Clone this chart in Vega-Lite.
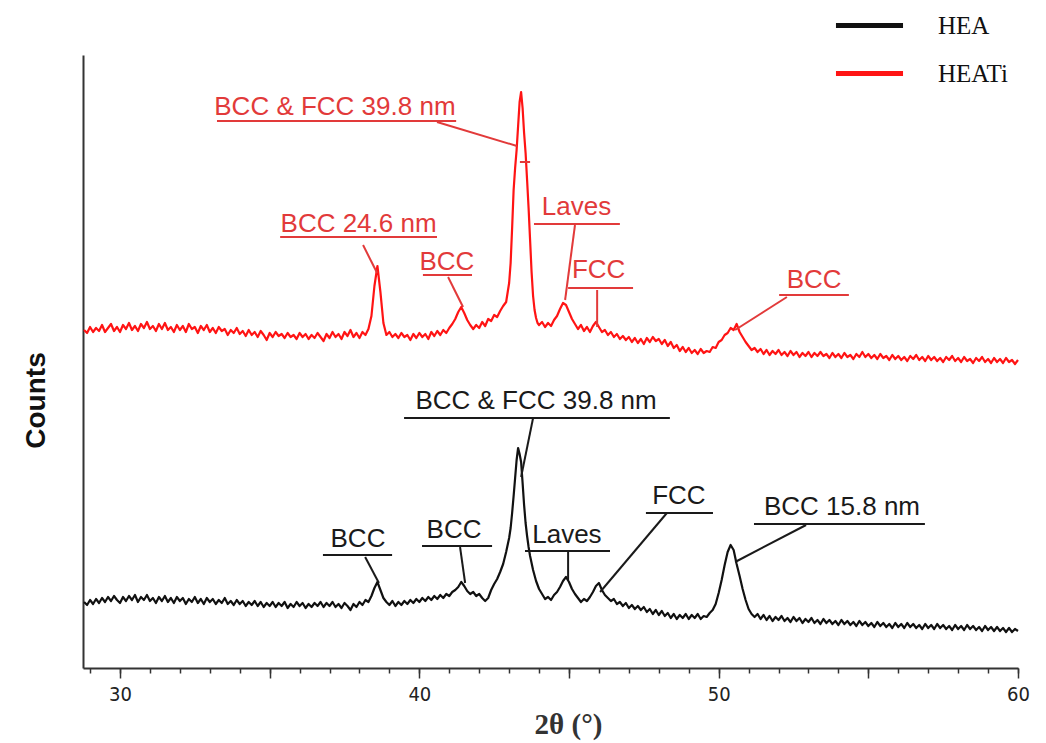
{
"$schema":"https://vega.github.io/schema/vega-lite/v6.json",
"width":935,"height":613,
"autosize":{"type":"none"},
"padding":{"left":83,"top":55,"right":28,"bottom":75},
"background":"white",
"config":{"view":{"stroke":null},"font":"Liberation Sans"},
"datasets":{
"xrd":[
{"series":"HEATi","theta":28.8,"counts":338},{"series":"HEATi","theta":28.9,"counts":335},{"series":"HEATi","theta":29.0,"counts":341},{"series":"HEATi","theta":29.1,"counts":336},{"series":"HEATi","theta":29.2,"counts":340},{"series":"HEATi","theta":29.3,"counts":337},{"series":"HEATi","theta":29.4,"counts":343},{"series":"HEATi","theta":29.5,"counts":336},{"series":"HEATi","theta":29.6,"counts":340},{"series":"HEATi","theta":29.7,"counts":344},
{"series":"HEATi","theta":29.8,"counts":337},{"series":"HEATi","theta":29.9,"counts":341},{"series":"HEATi","theta":30.0,"counts":336},{"series":"HEATi","theta":30.1,"counts":343},{"series":"HEATi","theta":30.2,"counts":339},{"series":"HEATi","theta":30.3,"counts":345},{"series":"HEATi","theta":30.4,"counts":338},{"series":"HEATi","theta":30.5,"counts":342},{"series":"HEATi","theta":30.6,"counts":337},{"series":"HEATi","theta":30.7,"counts":344},
{"series":"HEATi","theta":30.8,"counts":340},{"series":"HEATi","theta":30.9,"counts":346},{"series":"HEATi","theta":31.0,"counts":339},{"series":"HEATi","theta":31.1,"counts":342},{"series":"HEATi","theta":31.2,"counts":337},{"series":"HEATi","theta":31.3,"counts":344},{"series":"HEATi","theta":31.4,"counts":339},{"series":"HEATi","theta":31.5,"counts":345},{"series":"HEATi","theta":31.6,"counts":338},{"series":"HEATi","theta":31.7,"counts":341},
{"series":"HEATi","theta":31.8,"counts":336},{"series":"HEATi","theta":31.9,"counts":343},{"series":"HEATi","theta":32.0,"counts":338},{"series":"HEATi","theta":32.1,"counts":342},{"series":"HEATi","theta":32.2,"counts":336},{"series":"HEATi","theta":32.3,"counts":344},{"series":"HEATi","theta":32.4,"counts":339},{"series":"HEATi","theta":32.5,"counts":341},{"series":"HEATi","theta":32.6,"counts":335},{"series":"HEATi","theta":32.7,"counts":342},
{"series":"HEATi","theta":32.8,"counts":338},{"series":"HEATi","theta":32.9,"counts":343},{"series":"HEATi","theta":33.0,"counts":336},{"series":"HEATi","theta":33.1,"counts":340},{"series":"HEATi","theta":33.2,"counts":335},{"series":"HEATi","theta":33.3,"counts":341},{"series":"HEATi","theta":33.4,"counts":337},{"series":"HEATi","theta":33.5,"counts":339},{"series":"HEATi","theta":33.6,"counts":333},{"series":"HEATi","theta":33.7,"counts":338},
{"series":"HEATi","theta":33.8,"counts":335},{"series":"HEATi","theta":33.9,"counts":340},{"series":"HEATi","theta":34.0,"counts":334},{"series":"HEATi","theta":34.1,"counts":337},{"series":"HEATi","theta":34.2,"counts":332},{"series":"HEATi","theta":34.3,"counts":338},{"series":"HEATi","theta":34.4,"counts":333},{"series":"HEATi","theta":34.5,"counts":336},{"series":"HEATi","theta":34.6,"counts":331},{"series":"HEATi","theta":34.7,"counts":337},
{"series":"HEATi","theta":34.8,"counts":333},{"series":"HEATi","theta":34.9,"counts":328},{"series":"HEATi","theta":35.0,"counts":335},{"series":"HEATi","theta":35.1,"counts":331},{"series":"HEATi","theta":35.2,"counts":336},{"series":"HEATi","theta":35.3,"counts":332},{"series":"HEATi","theta":35.4,"counts":334},{"series":"HEATi","theta":35.5,"counts":330},{"series":"HEATi","theta":35.6,"counts":335},{"series":"HEATi","theta":35.7,"counts":331},
{"series":"HEATi","theta":35.8,"counts":333},{"series":"HEATi","theta":35.9,"counts":329},{"series":"HEATi","theta":36.0,"counts":335},{"series":"HEATi","theta":36.1,"counts":331},{"series":"HEATi","theta":36.2,"counts":334},{"series":"HEATi","theta":36.3,"counts":329},{"series":"HEATi","theta":36.4,"counts":333},{"series":"HEATi","theta":36.5,"counts":330},{"series":"HEATi","theta":36.6,"counts":335},{"series":"HEATi","theta":36.7,"counts":331},
{"series":"HEATi","theta":36.8,"counts":327},{"series":"HEATi","theta":36.9,"counts":334},{"series":"HEATi","theta":37.0,"counts":330},{"series":"HEATi","theta":37.1,"counts":336},{"series":"HEATi","theta":37.2,"counts":331},{"series":"HEATi","theta":37.3,"counts":334},{"series":"HEATi","theta":37.4,"counts":329},{"series":"HEATi","theta":37.5,"counts":336},{"series":"HEATi","theta":37.6,"counts":332},{"series":"HEATi","theta":37.7,"counts":338},
{"series":"HEATi","theta":37.8,"counts":331},{"series":"HEATi","theta":37.9,"counts":335},{"series":"HEATi","theta":38.0,"counts":330},{"series":"HEATi","theta":38.1,"counts":336},{"series":"HEATi","theta":38.2,"counts":333},{"series":"HEATi","theta":38.3,"counts":339},{"series":"HEATi","theta":38.4,"counts":352},{"series":"HEATi","theta":38.5,"counts":382},{"series":"HEATi","theta":38.6,"counts":402},{"series":"HEATi","theta":38.7,"counts":376},
{"series":"HEATi","theta":38.8,"counts":345},{"series":"HEATi","theta":38.9,"counts":333},{"series":"HEATi","theta":39.0,"counts":336},{"series":"HEATi","theta":39.1,"counts":331},{"series":"HEATi","theta":39.2,"counts":334},{"series":"HEATi","theta":39.3,"counts":330},{"series":"HEATi","theta":39.4,"counts":335},{"series":"HEATi","theta":39.5,"counts":331},{"series":"HEATi","theta":39.6,"counts":333},{"series":"HEATi","theta":39.7,"counts":328},
{"series":"HEATi","theta":39.8,"counts":334},{"series":"HEATi","theta":39.9,"counts":330},{"series":"HEATi","theta":40.0,"counts":335},{"series":"HEATi","theta":40.1,"counts":331},{"series":"HEATi","theta":40.2,"counts":334},{"series":"HEATi","theta":40.3,"counts":329},{"series":"HEATi","theta":40.4,"counts":336},{"series":"HEATi","theta":40.5,"counts":332},{"series":"HEATi","theta":40.6,"counts":337},{"series":"HEATi","theta":40.7,"counts":333},
{"series":"HEATi","theta":40.8,"counts":338},{"series":"HEATi","theta":40.9,"counts":335},{"series":"HEATi","theta":41.0,"counts":340},{"series":"HEATi","theta":41.1,"counts":344},{"series":"HEATi","theta":41.2,"counts":349},{"series":"HEATi","theta":41.3,"counts":356},{"series":"HEATi","theta":41.4,"counts":361},{"series":"HEATi","theta":41.5,"counts":355},{"series":"HEATi","theta":41.6,"counts":348},{"series":"HEATi","theta":41.7,"counts":343},
{"series":"HEATi","theta":41.8,"counts":339},{"series":"HEATi","theta":41.9,"counts":343},{"series":"HEATi","theta":42.0,"counts":340},{"series":"HEATi","theta":42.1,"counts":346},{"series":"HEATi","theta":42.2,"counts":342},{"series":"HEATi","theta":42.3,"counts":349},{"series":"HEATi","theta":42.4,"counts":347},{"series":"HEATi","theta":42.5,"counts":353},{"series":"HEATi","theta":42.6,"counts":351},{"series":"HEATi","theta":42.7,"counts":357},
{"series":"HEATi","theta":42.8,"counts":362},{"series":"HEATi","theta":42.9,"counts":366},{"series":"HEATi","theta":43.0,"counts":385},{"series":"HEATi","theta":43.05,"counts":405},{"series":"HEATi","theta":43.1,"counts":440},{"series":"HEATi","theta":43.15,"counts":478},{"series":"HEATi","theta":43.2,"counts":500},{"series":"HEATi","theta":43.25,"counts":518},{"series":"HEATi","theta":43.3,"counts":542},{"series":"HEATi","theta":43.35,"counts":566},
{"series":"HEATi","theta":43.4,"counts":576},{"series":"HEATi","theta":43.45,"counts":560},{"series":"HEATi","theta":43.5,"counts":535},{"series":"HEATi","theta":43.55,"counts":515},{"series":"HEATi","theta":43.6,"counts":488},{"series":"HEATi","theta":43.65,"counts":460},{"series":"HEATi","theta":43.7,"counts":428},{"series":"HEATi","theta":43.75,"counts":396},{"series":"HEATi","theta":43.8,"counts":372},{"series":"HEATi","theta":43.85,"counts":358},
{"series":"HEATi","theta":43.9,"counts":350},{"series":"HEATi","theta":43.95,"counts":345},{"series":"HEATi","theta":44.0,"counts":343},{"series":"HEATi","theta":44.1,"counts":346},{"series":"HEATi","theta":44.2,"counts":341},{"series":"HEATi","theta":44.3,"counts":345},{"series":"HEATi","theta":44.4,"counts":342},{"series":"HEATi","theta":44.5,"counts":348},{"series":"HEATi","theta":44.6,"counts":352},{"series":"HEATi","theta":44.7,"counts":359},
{"series":"HEATi","theta":44.8,"counts":365},{"series":"HEATi","theta":44.9,"counts":363},{"series":"HEATi","theta":45.0,"counts":356},{"series":"HEATi","theta":45.1,"counts":349},{"series":"HEATi","theta":45.2,"counts":344},{"series":"HEATi","theta":45.3,"counts":339},{"series":"HEATi","theta":45.4,"counts":343},{"series":"HEATi","theta":45.5,"counts":337},{"series":"HEATi","theta":45.6,"counts":341},{"series":"HEATi","theta":45.7,"counts":336},
{"series":"HEATi","theta":45.8,"counts":342},{"series":"HEATi","theta":45.9,"counts":346},{"series":"HEATi","theta":46.0,"counts":341},{"series":"HEATi","theta":46.1,"counts":336},{"series":"HEATi","theta":46.2,"counts":338},{"series":"HEATi","theta":46.3,"counts":333},{"series":"HEATi","theta":46.4,"counts":336},{"series":"HEATi","theta":46.5,"counts":331},{"series":"HEATi","theta":46.6,"counts":334},{"series":"HEATi","theta":46.7,"counts":329},
{"series":"HEATi","theta":46.8,"counts":332},{"series":"HEATi","theta":46.9,"counts":328},{"series":"HEATi","theta":47.0,"counts":331},{"series":"HEATi","theta":47.1,"counts":326},{"series":"HEATi","theta":47.2,"counts":330},{"series":"HEATi","theta":47.3,"counts":325},{"series":"HEATi","theta":47.4,"counts":329},{"series":"HEATi","theta":47.5,"counts":324},{"series":"HEATi","theta":47.6,"counts":330},{"series":"HEATi","theta":47.7,"counts":326},
{"series":"HEATi","theta":47.8,"counts":331},{"series":"HEATi","theta":47.9,"counts":327},{"series":"HEATi","theta":48.0,"counts":329},{"series":"HEATi","theta":48.1,"counts":324},{"series":"HEATi","theta":48.2,"counts":328},{"series":"HEATi","theta":48.3,"counts":322},{"series":"HEATi","theta":48.4,"counts":326},{"series":"HEATi","theta":48.5,"counts":320},{"series":"HEATi","theta":48.6,"counts":323},{"series":"HEATi","theta":48.7,"counts":317},
{"series":"HEATi","theta":48.8,"counts":321},{"series":"HEATi","theta":48.9,"counts":316},{"series":"HEATi","theta":49.0,"counts":320},{"series":"HEATi","theta":49.1,"counts":315},{"series":"HEATi","theta":49.2,"counts":318},{"series":"HEATi","theta":49.3,"counts":314},{"series":"HEATi","theta":49.4,"counts":319},{"series":"HEATi","theta":49.5,"counts":315},{"series":"HEATi","theta":49.6,"counts":317},{"series":"HEATi","theta":49.7,"counts":316},
{"series":"HEATi","theta":49.8,"counts":321},{"series":"HEATi","theta":49.9,"counts":320},{"series":"HEATi","theta":50.0,"counts":326},{"series":"HEATi","theta":50.1,"counts":328},{"series":"HEATi","theta":50.2,"counts":333},{"series":"HEATi","theta":50.3,"counts":335},{"series":"HEATi","theta":50.4,"counts":340},{"series":"HEATi","theta":50.5,"counts":338},{"series":"HEATi","theta":50.6,"counts":344},{"series":"HEATi","theta":50.7,"counts":336},
{"series":"HEATi","theta":50.8,"counts":331},{"series":"HEATi","theta":50.9,"counts":326},{"series":"HEATi","theta":51.0,"counts":322},{"series":"HEATi","theta":51.1,"counts":318},{"series":"HEATi","theta":51.2,"counts":320},{"series":"HEATi","theta":51.3,"counts":316},{"series":"HEATi","theta":51.4,"counts":319},{"series":"HEATi","theta":51.5,"counts":314},{"series":"HEATi","theta":51.6,"counts":318},{"series":"HEATi","theta":51.7,"counts":313},
{"series":"HEATi","theta":51.8,"counts":317},{"series":"HEATi","theta":51.9,"counts":314},{"series":"HEATi","theta":52.0,"counts":318},{"series":"HEATi","theta":52.1,"counts":313},{"series":"HEATi","theta":52.2,"counts":316},{"series":"HEATi","theta":52.3,"counts":312},{"series":"HEATi","theta":52.4,"counts":317},{"series":"HEATi","theta":52.5,"counts":313},{"series":"HEATi","theta":52.6,"counts":316},{"series":"HEATi","theta":52.7,"counts":311},
{"series":"HEATi","theta":52.8,"counts":315},{"series":"HEATi","theta":52.9,"counts":312},{"series":"HEATi","theta":53.0,"counts":316},{"series":"HEATi","theta":53.1,"counts":311},{"series":"HEATi","theta":53.2,"counts":315},{"series":"HEATi","theta":53.3,"counts":312},{"series":"HEATi","theta":53.4,"counts":316},{"series":"HEATi","theta":53.5,"counts":312},{"series":"HEATi","theta":53.6,"counts":314},{"series":"HEATi","theta":53.7,"counts":310},
{"series":"HEATi","theta":53.8,"counts":315},{"series":"HEATi","theta":53.9,"counts":311},{"series":"HEATi","theta":54.0,"counts":314},{"series":"HEATi","theta":54.1,"counts":310},{"series":"HEATi","theta":54.2,"counts":315},{"series":"HEATi","theta":54.3,"counts":311},{"series":"HEATi","theta":54.4,"counts":313},{"series":"HEATi","theta":54.5,"counts":309},{"series":"HEATi","theta":54.6,"counts":314},{"series":"HEATi","theta":54.7,"counts":311},
{"series":"HEATi","theta":54.8,"counts":316},{"series":"HEATi","theta":54.9,"counts":311},{"series":"HEATi","theta":55.0,"counts":314},{"series":"HEATi","theta":55.1,"counts":310},{"series":"HEATi","theta":55.2,"counts":313},{"series":"HEATi","theta":55.3,"counts":309},{"series":"HEATi","theta":55.4,"counts":314},{"series":"HEATi","theta":55.5,"counts":310},{"series":"HEATi","theta":55.6,"counts":312},{"series":"HEATi","theta":55.7,"counts":308},
{"series":"HEATi","theta":55.8,"counts":313},{"series":"HEATi","theta":55.9,"counts":309},{"series":"HEATi","theta":56.0,"counts":312},{"series":"HEATi","theta":56.1,"counts":308},{"series":"HEATi","theta":56.2,"counts":311},{"series":"HEATi","theta":56.3,"counts":307},{"series":"HEATi","theta":56.4,"counts":312},{"series":"HEATi","theta":56.5,"counts":309},{"series":"HEATi","theta":56.6,"counts":313},{"series":"HEATi","theta":56.7,"counts":308},
{"series":"HEATi","theta":56.8,"counts":311},{"series":"HEATi","theta":56.9,"counts":307},{"series":"HEATi","theta":57.0,"counts":312},{"series":"HEATi","theta":57.1,"counts":308},{"series":"HEATi","theta":57.2,"counts":311},{"series":"HEATi","theta":57.3,"counts":307},{"series":"HEATi","theta":57.4,"counts":310},{"series":"HEATi","theta":57.5,"counts":306},{"series":"HEATi","theta":57.6,"counts":311},{"series":"HEATi","theta":57.7,"counts":308},
{"series":"HEATi","theta":57.8,"counts":312},{"series":"HEATi","theta":57.9,"counts":307},{"series":"HEATi","theta":58.0,"counts":310},{"series":"HEATi","theta":58.1,"counts":306},{"series":"HEATi","theta":58.2,"counts":311},{"series":"HEATi","theta":58.3,"counts":307},{"series":"HEATi","theta":58.4,"counts":309},{"series":"HEATi","theta":58.5,"counts":305},{"series":"HEATi","theta":58.6,"counts":310},{"series":"HEATi","theta":58.7,"counts":307},
{"series":"HEATi","theta":58.8,"counts":311},{"series":"HEATi","theta":58.9,"counts":306},{"series":"HEATi","theta":59.0,"counts":309},{"series":"HEATi","theta":59.1,"counts":305},{"series":"HEATi","theta":59.2,"counts":310},{"series":"HEATi","theta":59.3,"counts":306},{"series":"HEATi","theta":59.4,"counts":309},{"series":"HEATi","theta":59.5,"counts":305},{"series":"HEATi","theta":59.6,"counts":310},{"series":"HEATi","theta":59.7,"counts":306},
{"series":"HEATi","theta":59.8,"counts":308},{"series":"HEATi","theta":59.9,"counts":304},{"series":"HEATi","theta":60.0,"counts":308},
{"series":"HEA","theta":28.8,"counts":66},{"series":"HEA","theta":28.9,"counts":63},{"series":"HEA","theta":29.0,"counts":68},{"series":"HEA","theta":29.1,"counts":64},{"series":"HEA","theta":29.2,"counts":69},{"series":"HEA","theta":29.3,"counts":65},{"series":"HEA","theta":29.4,"counts":70},{"series":"HEA","theta":29.5,"counts":66},{"series":"HEA","theta":29.6,"counts":71},{"series":"HEA","theta":29.7,"counts":67},
{"series":"HEA","theta":29.8,"counts":72},{"series":"HEA","theta":29.9,"counts":68},{"series":"HEA","theta":30.0,"counts":65},{"series":"HEA","theta":30.1,"counts":71},{"series":"HEA","theta":30.2,"counts":67},{"series":"HEA","theta":30.3,"counts":72},{"series":"HEA","theta":30.4,"counts":68},{"series":"HEA","theta":30.5,"counts":73},{"series":"HEA","theta":30.6,"counts":66},{"series":"HEA","theta":30.7,"counts":71},
{"series":"HEA","theta":30.8,"counts":68},{"series":"HEA","theta":30.9,"counts":73},{"series":"HEA","theta":31.0,"counts":67},{"series":"HEA","theta":31.1,"counts":70},{"series":"HEA","theta":31.2,"counts":65},{"series":"HEA","theta":31.3,"counts":71},{"series":"HEA","theta":31.4,"counts":67},{"series":"HEA","theta":31.5,"counts":72},{"series":"HEA","theta":31.6,"counts":66},{"series":"HEA","theta":31.7,"counts":70},
{"series":"HEA","theta":31.8,"counts":65},{"series":"HEA","theta":31.9,"counts":71},{"series":"HEA","theta":32.0,"counts":67},{"series":"HEA","theta":32.1,"counts":70},{"series":"HEA","theta":32.2,"counts":64},{"series":"HEA","theta":32.3,"counts":69},{"series":"HEA","theta":32.4,"counts":66},{"series":"HEA","theta":32.5,"counts":71},{"series":"HEA","theta":32.6,"counts":65},{"series":"HEA","theta":32.7,"counts":69},
{"series":"HEA","theta":32.8,"counts":64},{"series":"HEA","theta":32.9,"counts":70},{"series":"HEA","theta":33.0,"counts":66},{"series":"HEA","theta":33.1,"counts":69},{"series":"HEA","theta":33.2,"counts":64},{"series":"HEA","theta":33.3,"counts":68},{"series":"HEA","theta":33.4,"counts":65},{"series":"HEA","theta":33.5,"counts":70},{"series":"HEA","theta":33.6,"counts":64},{"series":"HEA","theta":33.7,"counts":67},
{"series":"HEA","theta":33.8,"counts":63},{"series":"HEA","theta":33.9,"counts":68},{"series":"HEA","theta":34.0,"counts":64},{"series":"HEA","theta":34.1,"counts":67},{"series":"HEA","theta":34.2,"counts":62},{"series":"HEA","theta":34.3,"counts":66},{"series":"HEA","theta":34.4,"counts":63},{"series":"HEA","theta":34.5,"counts":67},{"series":"HEA","theta":34.6,"counts":62},{"series":"HEA","theta":34.7,"counts":66},
{"series":"HEA","theta":34.8,"counts":61},{"series":"HEA","theta":34.9,"counts":65},{"series":"HEA","theta":35.0,"counts":62},{"series":"HEA","theta":35.1,"counts":66},{"series":"HEA","theta":35.2,"counts":61},{"series":"HEA","theta":35.3,"counts":65},{"series":"HEA","theta":35.4,"counts":62},{"series":"HEA","theta":35.5,"counts":66},{"series":"HEA","theta":35.6,"counts":60},{"series":"HEA","theta":35.7,"counts":64},
{"series":"HEA","theta":35.8,"counts":61},{"series":"HEA","theta":35.9,"counts":66},{"series":"HEA","theta":36.0,"counts":62},{"series":"HEA","theta":36.1,"counts":65},{"series":"HEA","theta":36.2,"counts":60},{"series":"HEA","theta":36.3,"counts":64},{"series":"HEA","theta":36.4,"counts":61},{"series":"HEA","theta":36.5,"counts":65},{"series":"HEA","theta":36.6,"counts":62},{"series":"HEA","theta":36.7,"counts":66},
{"series":"HEA","theta":36.8,"counts":61},{"series":"HEA","theta":36.9,"counts":65},{"series":"HEA","theta":37.0,"counts":62},{"series":"HEA","theta":37.1,"counts":66},{"series":"HEA","theta":37.2,"counts":61},{"series":"HEA","theta":37.3,"counts":64},{"series":"HEA","theta":37.4,"counts":60},{"series":"HEA","theta":37.5,"counts":65},{"series":"HEA","theta":37.6,"counts":62},{"series":"HEA","theta":37.7,"counts":58},
{"series":"HEA","theta":37.8,"counts":64},{"series":"HEA","theta":37.9,"counts":61},{"series":"HEA","theta":38.0,"counts":66},{"series":"HEA","theta":38.1,"counts":63},{"series":"HEA","theta":38.2,"counts":68},{"series":"HEA","theta":38.3,"counts":66},{"series":"HEA","theta":38.4,"counts":72},{"series":"HEA","theta":38.5,"counts":80},{"series":"HEA","theta":38.6,"counts":86},{"series":"HEA","theta":38.7,"counts":78},
{"series":"HEA","theta":38.8,"counts":70},{"series":"HEA","theta":38.9,"counts":66},{"series":"HEA","theta":39.0,"counts":63},{"series":"HEA","theta":39.1,"counts":67},{"series":"HEA","theta":39.2,"counts":62},{"series":"HEA","theta":39.3,"counts":66},{"series":"HEA","theta":39.4,"counts":63},{"series":"HEA","theta":39.5,"counts":67},{"series":"HEA","theta":39.6,"counts":64},{"series":"HEA","theta":39.7,"counts":68},
{"series":"HEA","theta":39.8,"counts":65},{"series":"HEA","theta":39.9,"counts":69},{"series":"HEA","theta":40.0,"counts":66},{"series":"HEA","theta":40.1,"counts":70},{"series":"HEA","theta":40.2,"counts":67},{"series":"HEA","theta":40.3,"counts":71},{"series":"HEA","theta":40.4,"counts":68},{"series":"HEA","theta":40.5,"counts":72},{"series":"HEA","theta":40.6,"counts":69},{"series":"HEA","theta":40.7,"counts":73},
{"series":"HEA","theta":40.8,"counts":70},{"series":"HEA","theta":40.9,"counts":74},{"series":"HEA","theta":41.0,"counts":72},{"series":"HEA","theta":41.1,"counts":76},{"series":"HEA","theta":41.2,"counts":78},{"series":"HEA","theta":41.3,"counts":81},{"series":"HEA","theta":41.4,"counts":86},{"series":"HEA","theta":41.5,"counts":82},{"series":"HEA","theta":41.6,"counts":77},{"series":"HEA","theta":41.7,"counts":74},
{"series":"HEA","theta":41.8,"counts":76},{"series":"HEA","theta":41.9,"counts":72},{"series":"HEA","theta":42.0,"counts":74},{"series":"HEA","theta":42.1,"counts":70},{"series":"HEA","theta":42.2,"counts":67},{"series":"HEA","theta":42.3,"counts":70},{"series":"HEA","theta":42.4,"counts":78},{"series":"HEA","theta":42.5,"counts":84},{"series":"HEA","theta":42.6,"counts":89},{"series":"HEA","theta":42.7,"counts":96},
{"series":"HEA","theta":42.8,"counts":104},{"series":"HEA","theta":42.9,"counts":116},{"series":"HEA","theta":43.0,"counts":130},{"series":"HEA","theta":43.05,"counts":140},{"series":"HEA","theta":43.1,"counts":155},{"series":"HEA","theta":43.15,"counts":172},{"series":"HEA","theta":43.2,"counts":190},{"series":"HEA","theta":43.25,"counts":208},{"series":"HEA","theta":43.3,"counts":220},{"series":"HEA","theta":43.35,"counts":214},
{"series":"HEA","theta":43.4,"counts":206},{"series":"HEA","theta":43.45,"counts":185},{"series":"HEA","theta":43.5,"counts":163},{"series":"HEA","theta":43.55,"counts":145},{"series":"HEA","theta":43.6,"counts":132},{"series":"HEA","theta":43.65,"counts":121},{"series":"HEA","theta":43.7,"counts":112},{"series":"HEA","theta":43.8,"counts":98},{"series":"HEA","theta":43.9,"counts":87},{"series":"HEA","theta":44.0,"counts":79},
{"series":"HEA","theta":44.1,"counts":74},{"series":"HEA","theta":44.2,"counts":69},{"series":"HEA","theta":44.3,"counts":71},{"series":"HEA","theta":44.4,"counts":68},{"series":"HEA","theta":44.5,"counts":73},{"series":"HEA","theta":44.6,"counts":76},{"series":"HEA","theta":44.7,"counts":81},{"series":"HEA","theta":44.8,"counts":87},{"series":"HEA","theta":44.9,"counts":91},{"series":"HEA","theta":45.0,"counts":86},
{"series":"HEA","theta":45.1,"counts":79},{"series":"HEA","theta":45.2,"counts":74},{"series":"HEA","theta":45.3,"counts":70},{"series":"HEA","theta":45.4,"counts":66},{"series":"HEA","theta":45.5,"counts":69},{"series":"HEA","theta":45.6,"counts":67},{"series":"HEA","theta":45.7,"counts":71},{"series":"HEA","theta":45.8,"counts":76},{"series":"HEA","theta":45.9,"counts":82},{"series":"HEA","theta":46.0,"counts":85},
{"series":"HEA","theta":46.1,"counts":78},{"series":"HEA","theta":46.2,"counts":73},{"series":"HEA","theta":46.3,"counts":70},{"series":"HEA","theta":46.4,"counts":67},{"series":"HEA","theta":46.5,"counts":69},{"series":"HEA","theta":46.6,"counts":64},{"series":"HEA","theta":46.7,"counts":66},{"series":"HEA","theta":46.8,"counts":62},{"series":"HEA","theta":46.9,"counts":65},{"series":"HEA","theta":47.0,"counts":60},
{"series":"HEA","theta":47.1,"counts":63},{"series":"HEA","theta":47.2,"counts":59},{"series":"HEA","theta":47.3,"counts":62},{"series":"HEA","theta":47.4,"counts":58},{"series":"HEA","theta":47.5,"counts":61},{"series":"HEA","theta":47.6,"counts":56},{"series":"HEA","theta":47.7,"counts":59},{"series":"HEA","theta":47.8,"counts":54},{"series":"HEA","theta":47.9,"counts":58},{"series":"HEA","theta":48.0,"counts":53},
{"series":"HEA","theta":48.1,"counts":57},{"series":"HEA","theta":48.2,"counts":52},{"series":"HEA","theta":48.3,"counts":55},{"series":"HEA","theta":48.4,"counts":50},{"series":"HEA","theta":48.5,"counts":54},{"series":"HEA","theta":48.6,"counts":49},{"series":"HEA","theta":48.7,"counts":53},{"series":"HEA","theta":48.8,"counts":50},{"series":"HEA","theta":48.9,"counts":54},{"series":"HEA","theta":49.0,"counts":49},
{"series":"HEA","theta":49.1,"counts":53},{"series":"HEA","theta":49.2,"counts":50},{"series":"HEA","theta":49.3,"counts":54},{"series":"HEA","theta":49.4,"counts":49},{"series":"HEA","theta":49.5,"counts":52},{"series":"HEA","theta":49.6,"counts":51},{"series":"HEA","theta":49.7,"counts":55},{"series":"HEA","theta":49.8,"counts":58},{"series":"HEA","theta":49.9,"counts":64},{"series":"HEA","theta":50.0,"counts":75},
{"series":"HEA","theta":50.1,"counts":88},{"series":"HEA","theta":50.2,"counts":103},{"series":"HEA","theta":50.3,"counts":116},{"series":"HEA","theta":50.4,"counts":123},{"series":"HEA","theta":50.5,"counts":118},{"series":"HEA","theta":50.6,"counts":104},{"series":"HEA","theta":50.7,"counts":92},{"series":"HEA","theta":50.8,"counts":79},{"series":"HEA","theta":50.9,"counts":68},{"series":"HEA","theta":51.0,"counts":59},
{"series":"HEA","theta":51.1,"counts":54},{"series":"HEA","theta":51.2,"counts":51},{"series":"HEA","theta":51.3,"counts":54},{"series":"HEA","theta":51.4,"counts":49},{"series":"HEA","theta":51.5,"counts":53},{"series":"HEA","theta":51.6,"counts":48},{"series":"HEA","theta":51.7,"counts":52},{"series":"HEA","theta":51.8,"counts":47},{"series":"HEA","theta":51.9,"counts":51},{"series":"HEA","theta":52.0,"counts":48},
{"series":"HEA","theta":52.1,"counts":52},{"series":"HEA","theta":52.2,"counts":47},{"series":"HEA","theta":52.3,"counts":50},{"series":"HEA","theta":52.4,"counts":46},{"series":"HEA","theta":52.5,"counts":51},{"series":"HEA","theta":52.6,"counts":47},{"series":"HEA","theta":52.7,"counts":50},{"series":"HEA","theta":52.8,"counts":45},{"series":"HEA","theta":52.9,"counts":49},{"series":"HEA","theta":53.0,"counts":46},
{"series":"HEA","theta":53.1,"counts":50},{"series":"HEA","theta":53.2,"counts":45},{"series":"HEA","theta":53.3,"counts":48},{"series":"HEA","theta":53.4,"counts":44},{"series":"HEA","theta":53.5,"counts":49},{"series":"HEA","theta":53.6,"counts":45},{"series":"HEA","theta":53.7,"counts":48},{"series":"HEA","theta":53.8,"counts":44},{"series":"HEA","theta":53.9,"counts":47},{"series":"HEA","theta":54.0,"counts":43},
{"series":"HEA","theta":54.1,"counts":48},{"series":"HEA","theta":54.2,"counts":44},{"series":"HEA","theta":54.3,"counts":47},{"series":"HEA","theta":54.4,"counts":43},{"series":"HEA","theta":54.5,"counts":46},{"series":"HEA","theta":54.6,"counts":42},{"series":"HEA","theta":54.7,"counts":47},{"series":"HEA","theta":54.8,"counts":43},{"series":"HEA","theta":54.9,"counts":46},{"series":"HEA","theta":55.0,"counts":42},
{"series":"HEA","theta":55.1,"counts":45},{"series":"HEA","theta":55.2,"counts":41},{"series":"HEA","theta":55.3,"counts":46},{"series":"HEA","theta":55.4,"counts":42},{"series":"HEA","theta":55.5,"counts":45},{"series":"HEA","theta":55.6,"counts":41},{"series":"HEA","theta":55.7,"counts":44},{"series":"HEA","theta":55.8,"counts":40},{"series":"HEA","theta":55.9,"counts":45},{"series":"HEA","theta":56.0,"counts":41},
{"series":"HEA","theta":56.1,"counts":44},{"series":"HEA","theta":56.2,"counts":40},{"series":"HEA","theta":56.3,"counts":45},{"series":"HEA","theta":56.4,"counts":41},{"series":"HEA","theta":56.5,"counts":44},{"series":"HEA","theta":56.6,"counts":40},{"series":"HEA","theta":56.7,"counts":43},{"series":"HEA","theta":56.8,"counts":39},{"series":"HEA","theta":56.9,"counts":44},{"series":"HEA","theta":57.0,"counts":40},
{"series":"HEA","theta":57.1,"counts":43},{"series":"HEA","theta":57.2,"counts":39},{"series":"HEA","theta":57.3,"counts":44},{"series":"HEA","theta":57.4,"counts":40},{"series":"HEA","theta":57.5,"counts":43},{"series":"HEA","theta":57.6,"counts":39},{"series":"HEA","theta":57.7,"counts":42},{"series":"HEA","theta":57.8,"counts":38},{"series":"HEA","theta":57.9,"counts":43},{"series":"HEA","theta":58.0,"counts":39},
{"series":"HEA","theta":58.1,"counts":42},{"series":"HEA","theta":58.2,"counts":38},{"series":"HEA","theta":58.3,"counts":43},{"series":"HEA","theta":58.4,"counts":39},{"series":"HEA","theta":58.5,"counts":42},{"series":"HEA","theta":58.6,"counts":38},{"series":"HEA","theta":58.7,"counts":41},{"series":"HEA","theta":58.8,"counts":37},{"series":"HEA","theta":58.9,"counts":42},{"series":"HEA","theta":59.0,"counts":38},
{"series":"HEA","theta":59.1,"counts":41},{"series":"HEA","theta":59.2,"counts":37},{"series":"HEA","theta":59.3,"counts":41},{"series":"HEA","theta":59.4,"counts":37},{"series":"HEA","theta":59.5,"counts":40},{"series":"HEA","theta":59.6,"counts":36},{"series":"HEA","theta":59.7,"counts":40},{"series":"HEA","theta":59.8,"counts":36},{"series":"HEA","theta":59.9,"counts":39},{"series":"HEA","theta":60.0,"counts":37}
],
"labels":[
{"series":"HEATi","theta":37.18,"counts":553,"label":"BCC & FCC 39.8 nm"},
{"series":"HEATi","theta":37.97,"counts":436,"label":"BCC 24.6 nm"},
{"series":"HEATi","theta":40.92,"counts":398,"label":"BCC"},
{"series":"HEATi","theta":45.25,"counts":453,"label":"Laves"},
{"series":"HEATi","theta":45.99,"counts":390,"label":"FCC"},
{"series":"HEATi","theta":53.19,"counts":380,"label":"BCC"},
{"series":"HEA","theta":43.90,"counts":259,"label":"BCC & FCC 39.8 nm"},
{"series":"HEA","theta":37.95,"counts":121,"label":"BCC"},
{"series":"HEA","theta":41.16,"counts":130,"label":"BCC"},
{"series":"HEA","theta":44.93,"counts":125,"label":"Laves"},
{"series":"HEA","theta":48.67,"counts":164,"label":"FCC"},
{"series":"HEA","theta":54.12,"counts":153,"label":"BCC 15.8 nm"}
],
"segments":[
{"series":"HEATi","x1":33.24,"y1":547,"x2":41.23,"y2":547},
{"series":"HEATi","x1":40.59,"y1":546,"x2":43.26,"y2":522},
{"series":"HEATi","x1":43.36,"y1":506,"x2":43.70,"y2":506},
{"series":"HEATi","x1":35.35,"y1":431,"x2":40.59,"y2":431},
{"series":"HEATi","x1":38.12,"y1":423,"x2":38.59,"y2":395},
{"series":"HEATi","x1":40.12,"y1":393,"x2":41.76,"y2":393},
{"series":"HEATi","x1":40.96,"y1":391,"x2":41.46,"y2":361},
{"series":"HEATi","x1":43.83,"y1":444,"x2":46.70,"y2":444},
{"series":"HEATi","x1":45.20,"y1":443,"x2":44.87,"y2":368},
{"series":"HEATi","x1":44.97,"y1":380,"x2":47.14,"y2":380},
{"series":"HEATi","x1":45.94,"y1":378,"x2":45.94,"y2":341},
{"series":"HEATi","x1":52.02,"y1":373,"x2":54.35,"y2":373},
{"series":"HEATi","x1":52.28,"y1":371,"x2":50.55,"y2":338},
{"series":"HEA","x1":39.49,"y1":250,"x2":48.37,"y2":250},
{"series":"HEA","x1":43.80,"y1":250,"x2":43.40,"y2":191},
{"series":"HEA","x1":36.78,"y1":113,"x2":39.09,"y2":113},
{"series":"HEA","x1":38.19,"y1":111,"x2":38.65,"y2":85},
{"series":"HEA","x1":40.09,"y1":122,"x2":42.43,"y2":122},
{"series":"HEA","x1":41.36,"y1":121,"x2":41.53,"y2":85},
{"series":"HEA","x1":43.53,"y1":117,"x2":46.37,"y2":117},
{"series":"HEA","x1":44.97,"y1":116,"x2":44.97,"y2":88},
{"series":"HEA","x1":47.57,"y1":155,"x2":49.81,"y2":155},
{"series":"HEA","x1":48.27,"y1":155,"x2":46.04,"y2":76},
{"series":"HEA","x1":51.18,"y1":144,"x2":56.89,"y2":144},
{"series":"HEA","x1":52.92,"y1":143,"x2":50.55,"y2":106}
]
},
"layer":[
{
"data":{"name":"xrd"},
"mark":{"type":"line","strokeWidth":2.2,"strokeJoin":"round"},
"encoding":{
"x":{"field":"theta","type":"quantitative","scale":{"domain":[28.764,60],"nice":false,"zero":false},
"axis":{"orient":"bottom","values":[30,35,40,45,50,55,60],"tickSize":10,"tickWidth":1.5,"tickColor":"#333333","domainColor":"#333333","domainWidth":2,"grid":false,
"labelExpr":"datum.value % 10 === 0 ? datum.label : ''","labelFlush":false,"labelOverlap":false,"labelFont":"DejaVu Sans Condensed, Liberation Sans, sans-serif","labelFontSize":20,"labelColor":"#222222","labelPadding":6,
"title":"2θ (°)","titleFont":"Liberation Serif","titleFontSize":29,"titleFontWeight":"bold","titleColor":"#333333","titleX":485,"titleY":65,"titleBaseline":"alphabetic"}},
"y":{"field":"counts","type":"quantitative","scale":{"domain":[0,613],"nice":false,"zero":false},
"axis":{"orient":"left","ticks":false,"labels":false,"grid":false,"domainColor":"#333333","domainWidth":2,
"title":"Counts","titleFont":"Liberation Sans","titleFontSize":28,"titleFontWeight":"bold","titleColor":"#111111","titleX":-47,"titleY":345,"titleAngle":-90,"titleAlign":"center","titleBaseline":"middle"}},
"color":{"field":"series","type":"nominal","scale":{"domain":["HEA","HEATi"],"range":["#111111","#ff1414"]},
"legend":{"orient":"none","legendX":774,"legendY":-42,"title":null,"symbolType":"M-4,0H4","symbolSize":281,"symbolStrokeWidth":5,"labelFont":"Liberation Serif","labelFontSize":25,"labelColor":"#111111","labelOffset":56,"rowPadding":22,"padding":0}}
}
},
{
"data":{"name":"segments"},
"mark":{"type":"rule","strokeWidth":2},
"encoding":{
"x":{"field":"x1","type":"quantitative","axis":{"orient":"bottom","values":[29,30,31,32,33,34,35,36,37,38,39,40,41,42,43,44,45,46,47,48,49,50,51,52,53,54,55,56,57,58,59,60],"tickSize":5,"tickWidth":1.5,"tickColor":"#333333","labels":false,"domain":false,"grid":false,"title":null}},
"x2":{"field":"x2"},
"y":{"field":"y1","type":"quantitative","axis":null},
"y2":{"field":"y2"},
"color":{"field":"series","type":"nominal","scale":{"domain":["HEA","HEATi"],"range":["#1a1a1a","#e23a3a"]},"legend":null}
}
},
{
"data":{"name":"labels"},
"mark":{"type":"text","font":"Liberation Sans","fontSize":26,"align":"center","baseline":"alphabetic"},
"encoding":{
"x":{"field":"theta","type":"quantitative","axis":null},
"y":{"field":"counts","type":"quantitative","axis":null},
"text":{"field":"label"},
"color":{"field":"series","type":"nominal","scale":{"domain":["HEA","HEATi"],"range":["#1a1a1a","#e23a3a"]},"legend":null}
}
}
],
"resolve":{"axis":{"x":"independent","y":"independent"},"scale":{"color":"independent"}}
}
